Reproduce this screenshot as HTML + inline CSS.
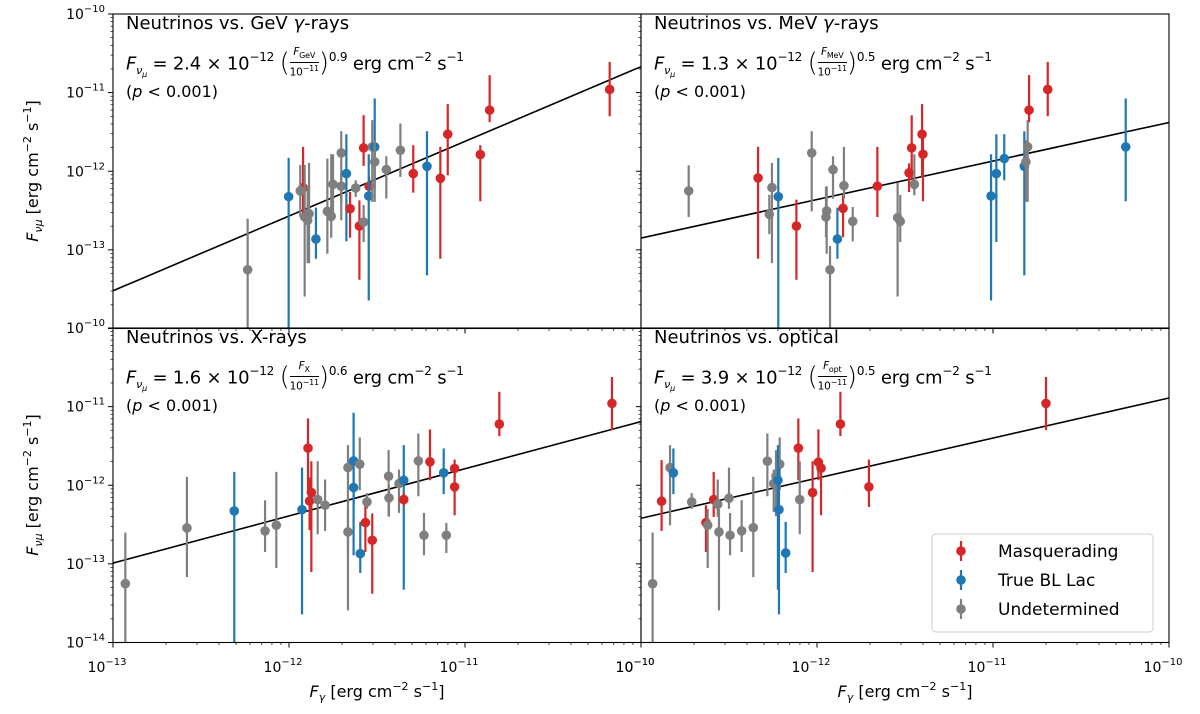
<!DOCTYPE html>
<html><head><meta charset="utf-8">
<style>
body{margin:0;background:#fff;}
#wrap{position:relative;width:1200px;height:714px;overflow:hidden;font-family:"DejaVu Sans","Liberation Sans",sans-serif;}
svg{position:absolute;left:0;top:0;}
.ann{position:absolute;font-size:16px;color:#000;white-space:nowrap;line-height:1;}
.ttl{font-size:18px;}
.frm{position:absolute;font-size:18px;white-space:nowrap;line-height:1;letter-spacing:-0.2px;}
.frm i{font-style:italic;}
.sub{font-size:11px;position:relative;top:5px;}
.sup{font-size:12px;position:relative;top:-8px;}
.par{font-size:26px;font-weight:100;position:relative;top:2px;}
.frac{display:inline-block;vertical-align:middle;text-align:center;font-size:10.5px;line-height:12px;position:relative;top:-2px;}
.frac span{display:block;}
.frac .num{border-bottom:1px solid #000;padding:0 1px;}
</style></head>
<body>
<div id="wrap">
<svg id="chart" width="1200" height="714" viewBox="0 0 1200 714"></svg>

<div class="ann ttl" style="left:126px;top:15px">Neutrinos vs. GeV <i>γ</i>-rays</div>
<div class="frm" style="left:126px;top:48px"><i>F</i><span class="sub"><i>ν<sub style="font-size:8px">μ</sub></i></span> = 2.4 × 10<span class="sup">−12</span> <span class="par">(</span><span class="frac"><span class="num"><i>F</i><sub style="font-size:8px">GeV</sub></span><span>10<sup style="font-size:8px">−11</sup></span></span><span class="par">)</span><span class="sup">0.9</span> erg cm<span class="sup">−2</span> s<span class="sup">−1</span></div>
<div class="ann" style="left:126px;top:84px">(<i>p</i> &lt; 0.001)</div>

<div class="ann ttl" style="left:654px;top:15px">Neutrinos vs. MeV <i>γ</i>-rays</div>
<div class="frm" style="left:654px;top:48px"><i>F</i><span class="sub"><i>ν<sub style="font-size:8px">μ</sub></i></span> = 1.3 × 10<span class="sup">−12</span> <span class="par">(</span><span class="frac"><span class="num"><i>F</i><sub style="font-size:8px">MeV</sub></span><span>10<sup style="font-size:8px">−11</sup></span></span><span class="par">)</span><span class="sup">0.5</span> erg cm<span class="sup">−2</span> s<span class="sup">−1</span></div>
<div class="ann" style="left:654px;top:84px">(<i>p</i> &lt; 0.001)</div>

<div class="ann ttl" style="left:126px;top:329px">Neutrinos vs. X-rays</div>
<div class="frm" style="left:126px;top:362px"><i>F</i><span class="sub"><i>ν<sub style="font-size:8px">μ</sub></i></span> = 1.6 × 10<span class="sup">−12</span> <span class="par">(</span><span class="frac"><span class="num"><i>F</i><sub style="font-size:8px">X</sub></span><span>10<sup style="font-size:8px">−11</sup></span></span><span class="par">)</span><span class="sup">0.6</span> erg cm<span class="sup">−2</span> s<span class="sup">−1</span></div>
<div class="ann" style="left:126px;top:398px">(<i>p</i> &lt; 0.001)</div>

<div class="ann ttl" style="left:654px;top:329px">Neutrinos vs. optical</div>
<div class="frm" style="left:654px;top:362px"><i>F</i><span class="sub"><i>ν<sub style="font-size:8px">μ</sub></i></span> = 3.9 × 10<span class="sup">−12</span> <span class="par">(</span><span class="frac"><span class="num"><i>F</i><sub style="font-size:8px">opt</sub></span><span>10<sup style="font-size:8px">−11</sup></span></span><span class="par">)</span><span class="sup">0.5</span> erg cm<span class="sup">−2</span> s<span class="sup">−1</span></div>
<div class="ann" style="left:654px;top:398px">(<i>p</i> &lt; 0.001)</div>
</div>

<script>
// ---- data (log10 values) ----
const gevX  = [-12.235,-12.002,-11.92,-11.936,-11.911,-11.886,-11.894,-11.847,-11.782,-11.76,-11.75,-11.703,-11.703,-11.674,-11.653,-11.621,-11.60,-11.576,-11.576,-11.545,-11.547,-11.527,-11.513,-11.513,-11.447,-11.367,-11.294,-11.216,-11.14,-11.098,-10.913,-10.86,-10.178];
const gevY  = [-13.253,-12.323,-12.208,-12.25,-12.582,-12.54,-12.625,-12.862,-12.51,-12.573,-12.166,-11.767,-12.19,-12.03,-12.476,-12.213,-12.697,-12.646,-11.703,-12.19,-12.315,-11.69,-11.69,-11.88,-11.979,-11.733,-12.03,-11.937,-12.09,-11.529,-11.788,-11.223,-10.96];
const gevLo = [-14.5,-14.5,-12.58,-12.58,-13.593,-13.168,-13.17,-13.113,-13.049,-12.845,-12.54,-12.624,-12.4,-12.892,-12.845,-12.327,-13.38,-12.9,-11.932,-12.33,-13.644,-12.39,-12.221,-12.39,-12.348,-12.072,-12.272,-13.325,-13.113,-12.051,-12.382,-11.376,-11.3];
const gevHi = [-12.603,-11.83,-11.69,-11.92,-11.92,-11.894,-12.2,-12.463,-11.839,-11.784,-11.784,-11.491,-12.0,-11.529,-12.264,-12.115,-12.37,-12.43,-11.287,-12.07,-11.784,-11.35,-11.075,-11.605,-11.809,-11.393,-11.669,-11.491,-11.69,-11.147,-11.669,-10.777,-10.61];
const gevC  = [2,1,0,2,2,2,2,1,2,2,2,2,2,1,0,2,0,2,0,0,1,2,1,2,2,2,0,1,0,0,0,0,0];

const mevX  = [-12.729,-12.335,-12.256,-12.271,-12.22,-12.117,-12.03,-11.945,-11.949,-11.926,-11.909,-11.884,-11.852,-11.847,-11.797,-11.657,-11.542,-11.527,-11.477,-11.462,-11.447,-11.403,-11.398,-11.011,-10.981,-10.936,-10.822,-10.813,-10.803,-10.795,-10.689,-10.246];
const mevY  = [-12.25,-12.085,-12.208,-12.548,-12.323,-12.697,-11.767,-12.506,-12.582,-13.253,-11.979,-12.862,-12.472,-12.183,-12.637,-12.19,-12.59,-12.637,-12.02,-11.703,-12.166,-11.529,-11.784,-12.315,-12.03,-11.839,-11.937,-11.88,-11.69,-11.223,-10.96,-11.69];
const mevLo = [-12.582,-13.113,-13.168,-12.8,-14.5,-13.38,-12.51,-13.049,-12.84,-14.5,-12.348,-13.113,-12.84,-12.348,-12.892,-12.582,-13.593,-12.9,-12.264,-12.115,-12.306,-12.072,-12.382,-13.644,-12.9,-12.115,-13.325,-12.39,-12.39,-11.376,-11.3,-12.382];
const mevHi = [-11.924,-11.69,-11.894,-12.3,-11.83,-12.361,-11.491,-12.19,-12.2,-12.95,-11.809,-12.463,-12.3,-11.69,-12.455,-11.69,-12.149,-12.3,-11.9,-11.287,-11.784,-11.147,-11.5,-11.784,-11.529,-11.529,-11.491,-11.605,-11.35,-10.777,-10.61,-11.075];
const mevC  = [2,0,2,2,1,0,2,2,2,2,2,1,0,2,2,0,2,2,0,0,2,0,0,1,1,1,1,2,2,0,0,1];

const xrX  = [-12.93,-12.58,-12.311,-12.136,-12.072,-11.926,-11.892,-11.873,-11.883,-11.837,-11.795,-11.665,-11.665,-11.633,-11.633,-11.598,-11.595,-11.566,-11.557,-11.527,-11.434,-11.432,-11.375,-11.348,-11.348,-11.265,-11.233,-11.199,-11.121,-11.106,-11.059,-11.059,-10.805,-10.165];
const xrY  = [-13.252,-12.543,-12.327,-12.581,-12.509,-12.31,-11.528,-12.093,-12.2,-12.182,-12.254,-11.775,-12.594,-11.69,-12.029,-11.732,-12.87,-12.475,-12.212,-12.7,-11.885,-12.161,-11.978,-11.936,-12.182,-11.69,-12.636,-11.702,-11.842,-12.636,-11.787,-12.021,-11.222,-10.959];
const xrLo = [-14.5,-13.167,-14.5,-12.849,-13.053,-13.643,-12.093,-13.104,-12.57,-12.624,-12.581,-13.592,-12.9,-12.891,-12.25,-12.063,-13.116,-12.849,-12.3,-13.38,-12.394,-12.4,-12.352,-13.329,-12.26,-12.14,-12.891,-11.936,-12.114,-12.862,-11.9,-12.382,-11.375,-11.299];
const xrHi = [-12.603,-11.893,-11.83,-12.191,-11.83,-11.775,-11.15,-11.694,-11.9,-11.694,-11.927,-11.49,-12.3,-11.078,-11.8,-11.392,-12.467,-12.254,-12.1,-12.36,-11.554,-12.0,-11.8,-11.49,-12.1,-11.341,-12.352,-11.29,-11.532,-12.48,-11.673,-11.8,-10.811,-10.624];
const xrC  = [2,2,1,2,2,1,0,0,0,2,2,2,2,1,1,2,1,0,2,0,2,2,2,1,0,2,2,0,1,2,0,0,0,0];

const optX  = [-12.934,-12.883,-12.835,-12.816,-12.712,-12.631,-12.621,-12.587,-12.564,-12.557,-12.5,-12.494,-12.428,-12.362,-12.282,-12.246,-12.233,-12.212,-12.222,-12.216,-12.178,-12.106,-12.098,-12.025,-11.992,-11.977,-11.867,-11.705,-10.699];
const optY  = [-13.252,-12.203,-11.775,-11.842,-12.212,-12.475,-12.509,-12.182,-12.242,-12.594,-12.165,-12.636,-12.581,-12.539,-11.694,-11.978,-11.885,-11.732,-11.936,-12.31,-12.861,-11.528,-12.182,-12.093,-11.707,-11.783,-11.222,-12.021,-10.959];
const optLo = [-14.5,-12.581,-12.509,-12.114,-12.3,-12.849,-13.053,-12.403,-12.4,-13.592,-12.3,-12.891,-12.849,-13.167,-12.14,-12.339,-12.394,-12.063,-13.329,-13.643,-13.116,-11.936,-12.624,-13.104,-11.936,-12.382,-11.375,-12.276,-11.299];
const optHi = [-12.603,-11.681,-11.49,-11.532,-12.1,-12.254,-12.3,-11.83,-11.927,-12.3,-11.775,-12.352,-12.191,-11.893,-11.341,-11.8,-11.554,-11.392,-11.49,-11.775,-12.467,-11.15,-11.694,-11.694,-11.29,-11.673,-10.811,-11.673,-10.624];
const optC  = [2,0,2,1,2,0,2,0,2,2,2,2,2,2,2,2,2,2,1,1,1,0,2,0,0,0,0,0,0];

const fitNorm  = [-11.62, -11.87, -11.79, -11.40];
const fitSlope = [0.95, 0.49, 0.60, 0.51];

const yTickLabels = ["10","10","10","10","10"];
const yTickExps   = ["−10","−11","−12","−13","−14"];
const xTickExpsL  = ["−13","−12","−11","−10"];
const xTickExpsR  = ["−10","−12","−11","−10"];
const classNames  = ["Masquerading","True BL Lac","Undetermined"];
const classColors = ["#d62728","#1f77b4","#7f7f7f"];

const NS = "http://www.w3.org/2000/svg";
const svg = document.getElementById('chart');
function mk(tag, attrs, parent){
  const e = document.createElementNS(NS, tag);
  for (const k in attrs) e.setAttribute(k, attrs[k]);
  (parent||svg).appendChild(e);
  return e;
}
const panels = [
  {x0:113, y0:14,  name:'gev', X:gevX, Y:gevY, Lo:gevLo, Hi:gevHi, C:gevC},
  {x0:641, y0:14,  name:'mev', X:mevX, Y:mevY, Lo:mevLo, Hi:mevHi, C:mevC},
  {x0:113, y0:328, name:'xray', X:xrX, Y:xrY, Lo:xrLo, Hi:xrHi, C:xrC},
  {x0:641, y0:328, name:'optical', X:optX, Y:optY, Lo:optLo, Hi:optHi, C:optC}
];
const PW = 528, PH = 314.5;
const xMin=-13, xMax=-10, yMin=-14, yMax=-10;

panels.forEach((p,pi)=>{
  const sx = v => p.x0 + (v - xMin)/(xMax-xMin)*PW;
  const sy = v => p.y0 + (yMax - v)/(yMax-yMin)*PH;
  const g = mk('g', {});
  
  
  const clip = mk('clipPath', {id:'clip'+pi}, g);
  mk('rect', {x:p.x0, y:p.y0, width:PW, height:PH}, clip);
  const plot = mk('g', {'clip-path':'url(#clip'+pi+')'}, g);
  const lx1 = xMin, lx2 = xMax;
  const fl = mk('line', {x1:sx(lx1), y1:sy(fitNorm[pi]+fitSlope[pi]*(lx1+11)), x2:sx(lx2), y2:sy(fitNorm[pi]+fitSlope[pi]*(lx2+11)), stroke:'#000', 'stroke-width':1.6}, plot);
  
  
  for (let i=0;i<p.X.length;i++){
    const col = classColors[p.C[i]];
    const eb = mk('line', {x1:sx(p.X[i]), x2:sx(p.X[i]), y1:sy(p.Lo[i]), y2:sy(p.Hi[i]), stroke:col, 'stroke-width':2.2}, plot);
    
    
    const pt = mk('circle', {cx:sx(p.X[i]), cy:sy(p.Y[i]), r:4.8, fill:col}, plot);
    
    
  }
  mk('rect', {x:p.x0, y:p.y0, width:PW, height:PH, fill:'none', stroke:'#000', 'stroke-width':1.1}, g);
  for (let d=yMin; d<=yMax; d++){
    mk('line', {x1:p.x0-5, x2:p.x0, y1:sy(d), y2:sy(d), stroke:'#000', 'stroke-width':1}, g);
    if (d<yMax) for (let m=2;m<10;m++){
      const v = d+Math.log10(m);
      mk('line', {x1:p.x0-2.5, x2:p.x0, y1:sy(v), y2:sy(v), stroke:'#000', 'stroke-width':0.7}, g);
    }
  }
  const yb = p.y0+PH;
  for (let d=xMin; d<=xMax; d++){
    mk('line', {x1:sx(d), x2:sx(d), y1:yb, y2:yb+5, stroke:'#000', 'stroke-width':1}, g);
    if (d<xMax) for (let m=2;m<10;m++){
      const v = d+Math.log10(m);
      mk('line', {x1:sx(v), x2:sx(v), y1:yb, y2:yb+2.5, stroke:'#000', 'stroke-width':0.7}, g);
    }
  }
  if (p.x0===113){
    for (let k=0;k<5;k++){
      if (p.y0===14 && k===4) continue;
      const d = yMax - k;
      const t = mk('text', {x:p.x0-8, y:sy(d)+5, 'text-anchor':'end', 'font-size':14, 'font-family':'DejaVu Sans, sans-serif'}, g);
      
      
      t.textContent = yTickLabels[k];
      const ts = mk('tspan', {dy:-7, 'font-size':10}, t);
      ts.textContent = yTickExps[k];
    }
  }
  if (p.y0===328){
    const exps = p.x0===113 ? xTickExpsL : xTickExpsR;
    for (let k=0;k<4;k++){
      const t = mk('text', {x:sx(xMin+k)-6, y:672, 'text-anchor':'middle', 'font-size':14, 'font-family':'DejaVu Sans, sans-serif'}, g);
      
      
      t.textContent = '10';
      const ts = mk('tspan', {dy:-7, 'font-size':10}, t);
      ts.textContent = exps[k];
    }
  }
});

function axisTitle(x, y, rot, main, sub, name){
  const t = mk('text', {x:x, y:y, 'text-anchor':'middle', 'font-size':16, 'font-family':'DejaVu Sans, sans-serif', transform: rot?('rotate(-90 '+x+' '+y+')'):''});
  
  
  const a = mk('tspan', {'font-style':'italic'}, t); a.textContent = 'F';
  const b = mk('tspan', {'font-style':'italic','font-size':11, dy:4}, t); b.textContent = sub;
  const c = mk('tspan', {dy:-4}, t); c.textContent = ' [erg cm';
  const d = mk('tspan', {dy:-7,'font-size':11}, t); d.textContent = '−2';
  const e = mk('tspan', {dy:7}, t); e.textContent = ' s';
  const f = mk('tspan', {dy:-7,'font-size':11}, t); f.textContent = '−1';
  const h = mk('tspan', {dy:7}, t); h.textContent = ']';
}
axisTitle(38, 171, true, 'F', 'νμ', 'y-axis-title-top');
axisTitle(38, 485, true, 'F', 'νμ', 'y-axis-title-bottom');
axisTitle(377, 697, false, 'F', 'γ', 'x-axis-title-left');
axisTitle(905, 697, false, 'F', 'γ', 'x-axis-title-right');

const lg = mk('g', {});


mk('rect', {x:932, y:534, width:221, height:98, rx:4, fill:'#fff', 'fill-opacity':0.85, stroke:'#ccc', 'stroke-width':1}, lg);
classNames.forEach((nm, k)=>{
  const yy = 551 + k*29;
  const e = mk('g', {}, lg);
  
  
  mk('line', {x1:961, x2:961, y1:yy-10, y2:yy+10, stroke:classColors[k], 'stroke-width':2.2}, e);
  mk('circle', {cx:961, cy:yy, r:4.8, fill:classColors[k]}, e);
  const t = mk('text', {x:998, y:yy+6, 'font-size':17, 'font-family':'DejaVu Sans, sans-serif'}, e);
  t.textContent = nm;
});
</script>
</body></html>
